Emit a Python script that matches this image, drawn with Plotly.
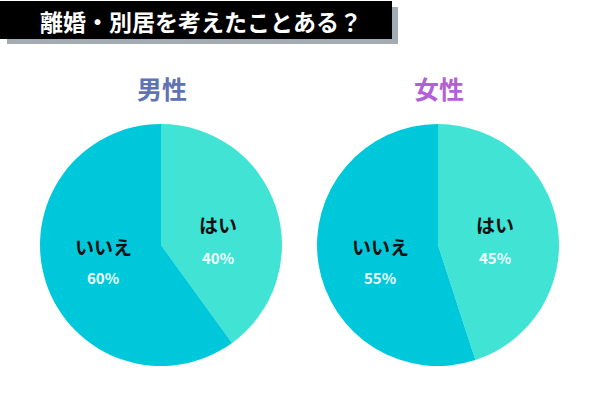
import plotly.graph_objects as go

labels = ["はい", "いいえ"]
male_values = [40, 60]
female_values = [45, 55]
colors = ["#40e3d4", "#00c8db"]
title_text = "離婚・別居を考えたことある？"
group_titles = ["男性", "女性"]
group_colors = ["#5f72b3", "#b25fd8"]

fig = go.Figure()
domains = [dict(x=[40/600, 282/600], y=[0.085, 0.69]),
           dict(x=[317/600, 559/600], y=[0.085, 0.69])]
for vals, dom in zip([male_values, female_values], domains):
    fig.add_trace(go.Pie(
        labels=labels, values=vals, sort=False, direction="clockwise", rotation=0,
        marker=dict(colors=colors, line=dict(width=0)),
        textinfo="none", hoverinfo="label+percent", domain=dom, showlegend=False))

font = "Noto Sans CJK JP"
shapes = [
    dict(type="rect", xref="paper", yref="paper", x0=7/600, x1=398/600, y0=1-44/400, y1=1-7/400,
         fillcolor="#a3abb3", line=dict(width=0), layer="below"),
    dict(type="rect", xref="paper", yref="paper", x0=0, x1=392/600, y0=1-39/400, y1=1-1/400,
         fillcolor="#000000", line=dict(width=0), layer="below"),
]
annotations = [
    dict(text=f"<b>{title_text}</b>", x=201/600, y=1-21/400, xref="paper", yref="paper",
         showarrow=False, font=dict(family=font, size=23, color="white"), xanchor="center", yanchor="middle"),
]
centers = [161, 438]
for i, (cx, vals) in enumerate(zip(centers, [male_values, female_values])):
    annotations.append(dict(text=f"<b>{group_titles[i]}</b>", x=(cx+1)/600, y=1-88/400, xref="paper", yref="paper",
                            showarrow=False, font=dict(family=font, size=25, color=group_colors[i]),
                            xanchor="center", yanchor="middle"))
    # はい
    annotations.append(dict(text=f"<b>{labels[0]}</b>", x=(cx+57)/600, y=1-224/400, xref="paper", yref="paper",
                            showarrow=False, font=dict(family=font, size=19, color="#111111"),
                            xanchor="center", yanchor="middle"))
    annotations.append(dict(text=f"<b>{vals[0]}%</b>", x=(cx+57)/600, y=1-257/400, xref="paper", yref="paper",
                            showarrow=False, font=dict(family=font, size=15, color="#f0ffff"),
                            xanchor="center", yanchor="middle"))
    # いいえ
    annotations.append(dict(text=f"<b>{labels[1]}</b>", x=(cx-58)/600, y=1-246/400, xref="paper", yref="paper",
                            showarrow=False, font=dict(family=font, size=19, color="#111111"),
                            xanchor="center", yanchor="middle"))
    annotations.append(dict(text=f"<b>{vals[1]}%</b>", x=(cx-58)/600, y=1-277/400, xref="paper", yref="paper",
                            showarrow=False, font=dict(family=font, size=15, color="#f0ffff"),
                            xanchor="center", yanchor="middle"))

fig.update_layout(width=600, height=400, margin=dict(l=0, r=0, t=0, b=0),
                  paper_bgcolor="white", plot_bgcolor="white",
                  shapes=shapes, annotations=annotations)
fig.write_html("out.html")
